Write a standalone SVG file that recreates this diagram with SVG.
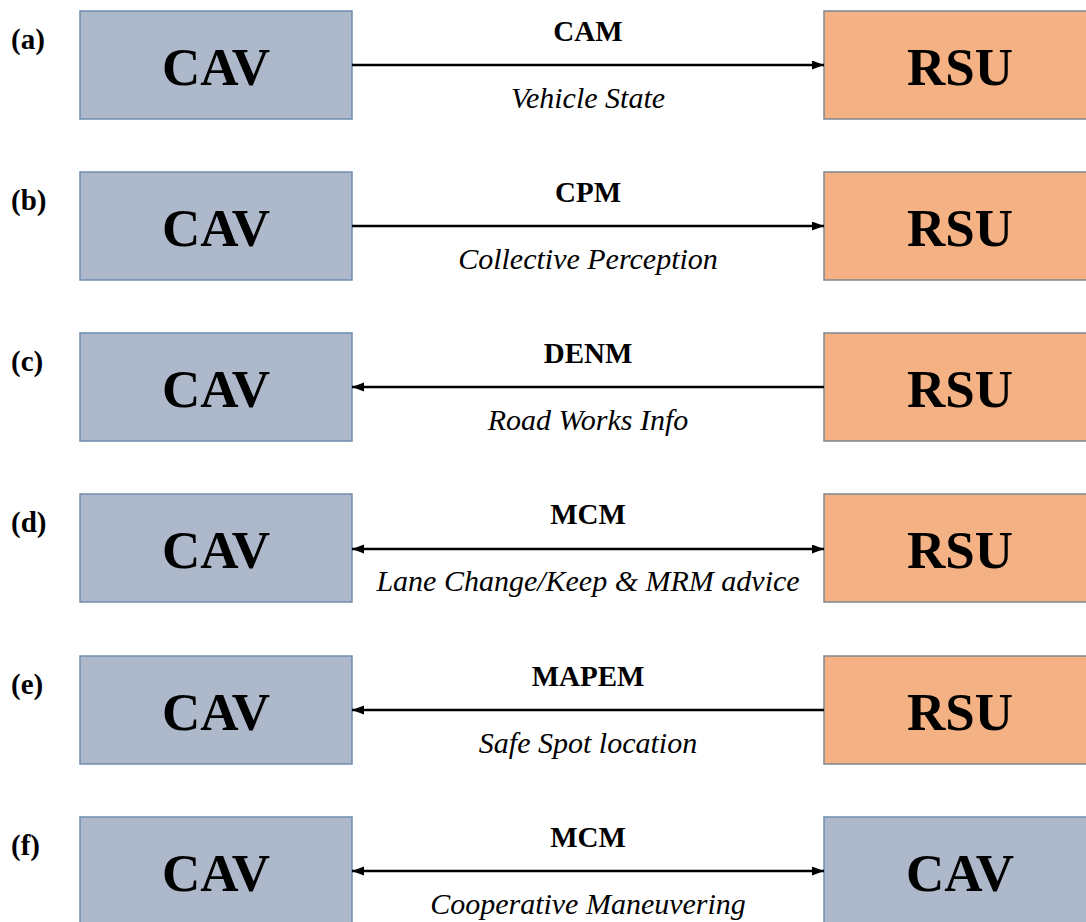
<svg xmlns="http://www.w3.org/2000/svg" width="1086" height="922" viewBox="0 0 1086 922">
<style>
.cav{fill:#adb9cb;stroke:#6f8db0;stroke-width:1.5}
.rsu{fill:#f4b183;stroke:#7f8790;stroke-width:1.5}
.nt{font-family:"Liberation Serif",serif;font-weight:bold;font-size:53px;fill:#000;text-anchor:middle}
.lbl{font-family:"Liberation Serif",serif;font-weight:bold;font-size:29px;fill:#000}
.msg{font-family:"Liberation Serif",serif;font-weight:bold;font-size:29px;fill:#000;text-anchor:middle}
.sub{font-family:"Liberation Serif",serif;font-style:italic;font-size:30px;fill:#000;text-anchor:middle}
.ln{stroke:#000;stroke-width:2.5;fill:none}
</style>
<defs>
<marker id="ah" markerWidth="13" markerHeight="10" refX="12" refY="4.5" orient="auto-start-reverse" markerUnits="userSpaceOnUse">
<path d="M0,0 L12,4.5 L0,9 Z" fill="#000"/>
</marker>
</defs>
<rect width="1086" height="922" fill="#fff"/>

<g id="row-a">
<text class="lbl" x="11" y="49">(a)</text>
<g id="a-cav"><rect class="cav" x="80" y="11" width="272" height="108"/><text class="nt" x="216" y="85">CAV</text></g>
<g id="a-rsu"><rect class="rsu" x="824" y="11" width="300" height="108"/><text class="nt" x="960" y="85">RSU</text></g>
<text class="msg" x="588" y="41">CAM</text>
<text class="sub" x="588" y="108">Vehicle State</text>
</g>

<g id="row-b">
<text class="lbl" x="11" y="210">(b)</text>
<g id="b-cav"><rect class="cav" x="80" y="172" width="272" height="108"/><text class="nt" x="216" y="246">CAV</text></g>
<g id="b-rsu"><rect class="rsu" x="824" y="172" width="300" height="108"/><text class="nt" x="960" y="246">RSU</text></g>
<text class="msg" x="588" y="202">CPM</text>
<text class="sub" x="588" y="269">Collective Perception</text>
</g>

<g id="row-c">
<text class="lbl" x="11" y="371">(c)</text>
<g id="c-cav"><rect class="cav" x="80" y="333" width="272" height="108"/><text class="nt" x="216" y="407">CAV</text></g>
<g id="c-rsu"><rect class="rsu" x="824" y="333" width="300" height="108"/><text class="nt" x="960" y="407">RSU</text></g>
<text class="msg" x="588" y="363">DENM</text>
<text class="sub" x="588" y="430">Road Works Info</text>
</g>

<g id="row-d">
<text class="lbl" x="11" y="532">(d)</text>
<g id="d-cav"><rect class="cav" x="80" y="494" width="272" height="108"/><text class="nt" x="216" y="568">CAV</text></g>
<g id="d-rsu"><rect class="rsu" x="824" y="494" width="300" height="108"/><text class="nt" x="960" y="568">RSU</text></g>
<text class="msg" x="588" y="524">MCM</text>
<text class="sub" x="588" y="591">Lane Change/Keep &amp; MRM advice</text>
</g>

<g id="row-e">
<text class="lbl" x="11" y="694">(e)</text>
<g id="e-cav"><rect class="cav" x="80" y="656" width="272" height="108"/><text class="nt" x="216" y="730">CAV</text></g>
<g id="e-rsu"><rect class="rsu" x="824" y="656" width="300" height="108"/><text class="nt" x="960" y="730">RSU</text></g>
<text class="msg" x="588" y="686">MAPEM</text>
<text class="sub" x="588" y="753">Safe Spot location</text>
</g>

<g id="row-f">
<text class="lbl" x="11" y="855">(f)</text>
<g id="f-cav1"><rect class="cav" x="80" y="817" width="272" height="120"/><text class="nt" x="216" y="891">CAV</text></g>
<g id="f-cav2"><rect class="cav" x="824" y="817" width="300" height="120"/><text class="nt" x="960" y="891">CAV</text></g>
<text class="msg" x="588" y="847">MCM</text>
<text class="sub" x="588" y="914">Cooperative Maneuvering</text>
</g>

<g id="connectors">
<line class="ln" x1="352" y1="65" x2="824" y2="65" marker-end="url(#ah)"/>
<line class="ln" x1="352" y1="226" x2="824" y2="226" marker-end="url(#ah)"/>
<line class="ln" x1="824" y1="387" x2="352" y2="387" marker-end="url(#ah)"/>
<line class="ln" x1="352" y1="549" x2="824" y2="549" marker-start="url(#ah)" marker-end="url(#ah)"/>
<line class="ln" x1="824" y1="710" x2="352" y2="710" marker-end="url(#ah)"/>
<line class="ln" x1="352" y1="871" x2="824" y2="871" marker-start="url(#ah)" marker-end="url(#ah)"/>
</g>
</svg>
